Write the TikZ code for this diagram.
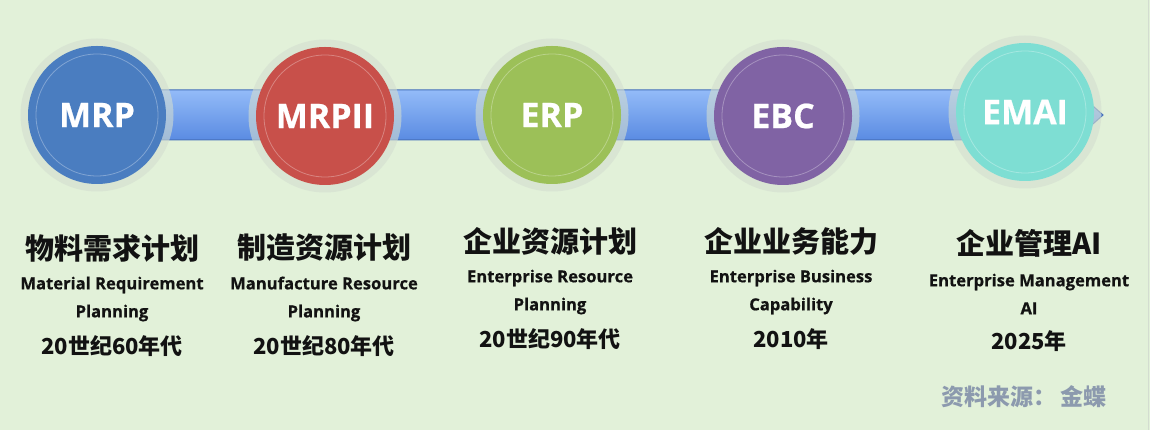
\documentclass[tikz,border=0pt]{standalone}
\usepackage{fontspec}
\setmainfont{Open Sans}[BoldFeatures={FakeBold=0.6}]
\newfontfamily\cjk{Noto Sans CJK SC}
\usetikzlibrary{positioning,calc}
\definecolor{bgGreen}{HTML}{E2F1D9}
\definecolor{mrpBlue}{HTML}{4A7DC0}
\definecolor{mrpiiRed}{HTML}{C8504A}
\definecolor{erpGreen}{HTML}{9CC058}
\definecolor{ebcPurple}{HTML}{8063A4}
\definecolor{emaiTeal}{HTML}{7EDED3}
\definecolor{haloGray}{HTML}{D3DDD0}
\definecolor{barTop}{HTML}{93BBF8}
\definecolor{barBot}{HTML}{5A8BE2}
\definecolor{barEdge}{HTML}{4670BA}
\definecolor{textBlack}{HTML}{121212}
\definecolor{srcGray}{HTML}{8C9AAE}
\pgfdeclarelayer{back}
\pgfsetlayers{back,main}
\tikzstyle{stage} = [circle, minimum size=138pt, inner sep=0pt, text=white, font=\bfseries\fontsize{34}{34}\selectfont, preaction={draw=haloGray, line width=15pt, draw opacity=.6}]
\tikzstyle{innerring} = [draw=white, line width=.8pt, draw opacity=.3]
\tikzstyle{bar} = [draw=barEdge, line width=1pt, top color=barTop, bottom color=barBot]
\tikzstyle{cntitle} = [font=\cjk\bfseries\fontsize{29}{29}\selectfont, text=textBlack, inner sep=0pt]
\tikzstyle{entext} = [align=center, font=\bfseries\fontsize{16.6}{28}\selectfont, text=textBlack, inner sep=0pt]
\tikzstyle{yeartext} = [font=\cjk\bfseries\fontsize{22}{22}\selectfont, text=textBlack, inner sep=0pt]
\tikzstyle{srctext} = [font=\cjk\bfseries\fontsize{23}{23}\selectfont, text=srcGray, inner sep=0pt]

\begin{document}
\begin{tikzpicture}[x=1pt, y=1pt]
  \useasboundingbox (0,0) rectangle (1150,430);
  % circles
  \node (mrp)[stage, fill=mrpBlue] at (97,315) {MRP};
  \node (mrpii)[stage, fill=mrpiiRed] at (325,314) {MRPII};
  \node (erp)[stage, fill=erpGreen] at (552,315) {ERP};
  \node (ebc)[stage, fill=ebcPurple] at (783,314) {EBC};
  \node (emai)[stage, fill=emaiTeal] at (1025,318) {EMAI};
  \foreach \n in {mrp,mrpii,erp,ebc,emai}
    \draw[innerring] (\n.center) circle (61);
  \coordinate (tip) at (1103,315);
  \begin{pgfonlayer}{back}
    \fill[bgGreen] (0,0) rectangle (1150,430);
    \shade[bar] ($(mrp.center)+(0,25)$) -- ($(tip)+(-28,25)$) -- (tip) -- ($(tip)+(-28,-25)$) -- ($(mrp.center)+(0,-25)$) -- cycle;
  \end{pgfonlayer}
  % texts
  \node (t1)[cntitle] at (112,182) {物料需求计划};
  \node (e1)[entext, below of=t1, node distance=51pt] {Material Requirement\\Planning};
  \node (y1)[yeartext, below of=e1, node distance=47pt] {20世纪60年代};
  \node (t2)[cntitle] at (324,182) {制造资源计划};
  \node (e2)[entext, below of=t2, node distance=51pt] {Manufacture Resource\\Planning};
  \node (y2)[yeartext, below of=e2, node distance=47pt] {20世纪80年代};
  \node (t3)[cntitle] at (550,189) {企业资源计划};
  \node (e3)[entext, below of=t3, node distance=51pt] {Enterprise Resource\\Planning};
  \node (y3)[yeartext, below of=e3, node distance=47pt] {20世纪90年代};
  \node (t4)[cntitle] at (791,189) {企业业务能力};
  \node (e4)[entext, below of=t4, node distance=51pt] {Enterprise Business\\Capability};
  \node (y4)[yeartext, below of=e4, node distance=47pt] {2010年};
  \node (t5)[cntitle] at (1029,187) {企业管理AI};
  \node (e5)[entext, below of=t5, node distance=51pt] {Enterprise Management\\AI};
  \node (y5)[yeartext, below of=e5, node distance=47pt] {2025年};
  \node (src)[srctext] at (1024,33) {资料来源：\,金蝶};
  \draw[haloGray, line width=1.5pt] (1148.5,0) -- (1148.5,430);
\end{tikzpicture}
\end{document}
